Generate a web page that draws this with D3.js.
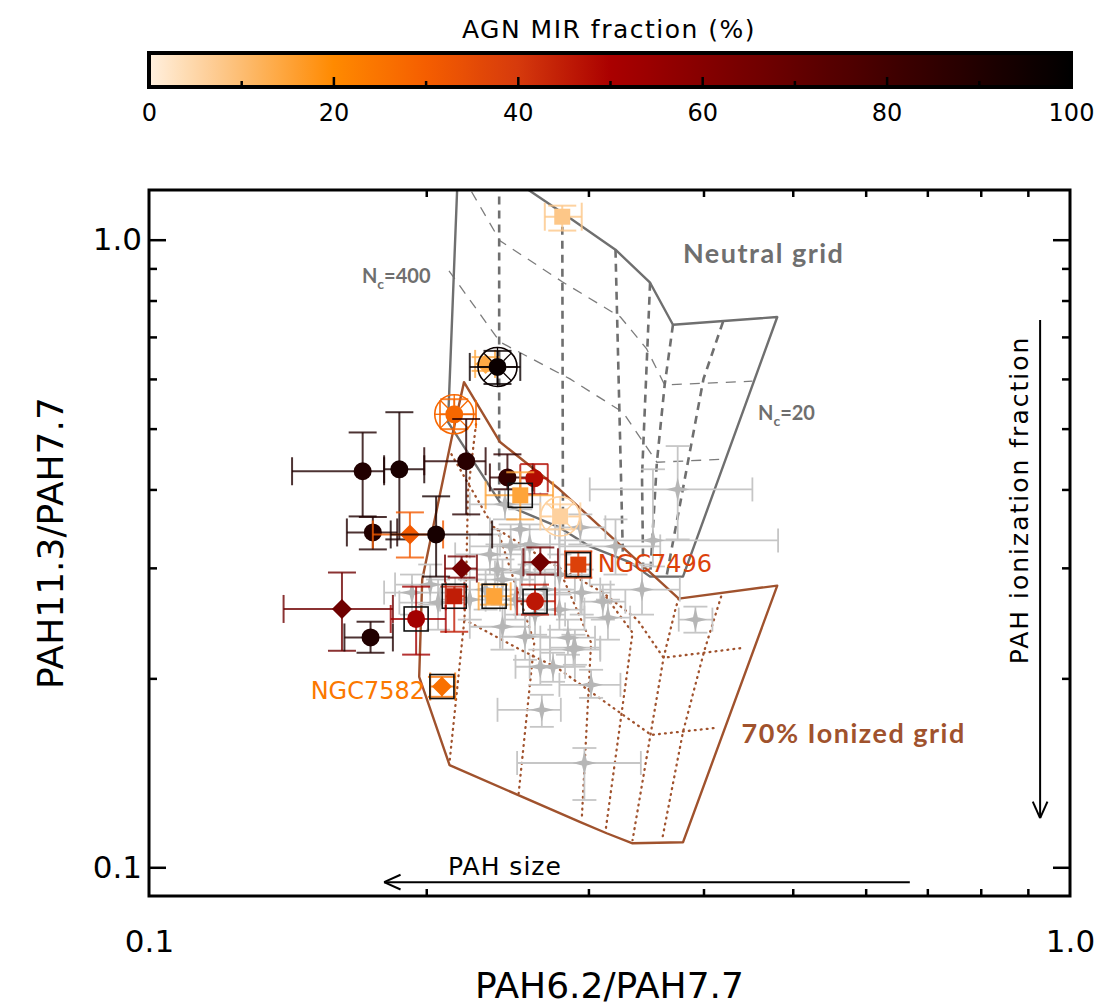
<!DOCTYPE html>
<html>
<head>
<meta charset="utf-8">
<script src="https://cdn.jsdelivr.net/npm/d3@7"></script>
<style>
  body { margin: 0; background: #fff; }
  svg { display: block; }
</style>
</head>
<body>
<svg id="chart" width="1099" height="1006"></svg>
<script>
// ---------------- colour bar: AGN MIR fraction (%) ----------------
const fracStops  = [0, 10, 20, 30, 40, 50, 60, 70, 80, 90, 100];
const fracColors = ["#fff0df", "#fdbd72", "#ff8a00", "#f55e00", "#d63a0c", "#aa0000",
                    "#860000", "#640000", "#420000", "#210000", "#000000"];
const cbLabels = [0, 20, 40, 60, 80, 100];
const cbMajor  = [20, 40, 60, 80];
const cbMinor  = [10, 30, 50, 70, 90];

// ---------------- axis ticks ----------------
const xMajor = [0.1, 1.0];
const xMinor = [0.2, 0.3, 0.4, 0.5, 0.6, 0.7, 0.8, 0.9];
const yMajor = [0.1, 1.0];
const yMinor = [0.2, 0.3, 0.4, 0.5, 0.6, 0.7, 0.8, 0.9];

// ---------------- neutral PAH grid (PAH6.2/7.7, PAH11.3/7.7) ----------------
const neutralOutline = [[0.2165,1.298],[0.2112,0.512],[0.2405,0.3814],[0.279,0.348],[0.301,0.3245],
  [0.333,0.306],[0.350,0.2905],[0.380,0.2905],[0.481,0.753],[0.3706,0.732],[0.350,0.854],
  [0.321,0.964],[0.281,1.104],[0.257,1.206],[0.239,1.298]];
const neutralCol1 = [[0.240,1.298],[0.240,0.3856]];
const neutralCol2 = [[0.281,1.104],[0.2815,0.3454]];
const neutralCol3 = [[0.321,0.964],[0.327,0.314]];
const neutralCol4 = [[0.350,0.854],[0.343,0.4198],[0.344,0.297]];
const neutralCol5 = [[0.3706,0.732],[0.363,0.587],[0.356,0.442],[0.350,0.2905]];
const neutralCol6 = [[0.420,0.740],[0.400,0.600],[0.365,0.2927]];
const neutralRowA = [[0.2185,1.26],[0.223,1.206],[0.2405,0.996],[0.281,0.857],[0.325,0.753],
  [0.347,0.670],[0.363,0.587],[0.452,0.595]];
const neutralRowB = [[0.2117,0.892],[0.2405,0.687],[0.2865,0.600],[0.327,0.531],[0.356,0.442],[0.422,0.447]];

// ---------------- 70% ionized PAH grid ----------------
const ionOutline = [[0.2198,0.593],[0.2405,0.476],[0.279,0.4002],[0.376,0.268],[0.481,0.2811],
  [0.380,0.1096],[0.335,0.1092],[0.314,0.1133],[0.294,0.118],[0.212,0.1455],[0.1965,0.2011],
  [0.198,0.2874],[0.213,0.481]];
const ionColA = [[0.2265,0.5083],[0.222,0.397],[0.221,0.2874],[0.220,0.2481],[0.212,0.1472]];
const ionColB = [[0.239,0.3454],[0.253,0.267],[0.262,0.228],[0.252,0.1313]];
const ionColC = [[0.279,0.2981],[0.302,0.228],[0.295,0.1189]];
const ionColD = [[0.311,0.274],[0.335,0.2365],[0.313,0.1138]];
const ionColE = [[0.376,0.268],[0.3735,0.2602],[0.362,0.2157],[0.335,0.1105]];
const ionColF = [[0.418,0.270],[0.4005,0.2205],[0.380,0.1643],[0.3606,0.1105]];
const ionRow1 = [[0.213,0.455],[0.2363,0.3492],[0.2725,0.306],[0.311,0.274],[0.339,0.2481],
  [0.362,0.2157],[0.443,0.2238]];
const ionRow2 = [[0.220,0.2481],[0.253,0.2222],[0.2773,0.208],[0.351,0.1625],[0.413,0.1668]];

// ---------------- comparison sample (grey stars) ----------------
const grayX   = [0.375,0.3525,0.321,0.343,0.295,0.311,0.315,0.285,0.256,0.242,0.266,0.2746,0.290,0.302,
  0.247,0.254,0.242,0.239,0.193,0.206,0.289,0.267,0.297,0.392,0.253,0.259,0.232,0.223,0.269,0.279,
  0.2345,0.250,0.2625,0.279,0.202,0.294,0.2435];
const grayY   = [0.400,0.3317,0.3245,0.277,0.274,0.265,0.2499,0.2322,0.233,0.2417,0.2087,0.2087,0.2238,0.1953,
  0.3245,0.2949,0.2874,0.2981,0.274,0.2641,0.2222,0.1782,0.1466,0.2481,0.3454,0.3269,0.277,0.267,0.277,0.2927,
  0.3151,0.267,0.2527,0.2574,0.2821,0.348,0.3787];
const grayXlo = [0.301,0.279,0.279,0.309,0.276,0.294,0.297,0.266,0.2405,0.223,0.250,0.259,0.2725,0.279,
  0.223,0.2375,0.223,0.218,0.180,0.187,0.2725,0.239,0.251,0.376,0.2345,0.2405,0.215,0.207,0.250,0.259,
  0.215,0.232,0.2435,0.2625,0.185,0.276,0.223];
const grayXhi = [0.452,0.482,0.359,0.377,0.317,0.329,0.333,0.305,0.2725,0.259,0.283,0.290,0.309,0.325,
  0.2725,0.276,0.2625,0.259,0.210,0.223,0.309,0.280,0.342,0.409,0.279,0.283,0.253,0.2405,0.290,0.301,
  0.256,0.269,0.283,0.297,0.220,0.313,0.266];
const grayYlo = [0.333,0.3015,0.2927,0.2527,0.2527,0.2481,0.2305,0.2181,0.2141,0.2222,0.1953,0.1975,0.2102,0.1862,
  0.2981,0.272,0.267,0.277,0.2527,0.2391,0.2087,0.1674,0.128,0.2365,0.3209,0.3037,0.2574,0.2481,0.2574,0.272,
  0.2927,0.2481,0.2347,0.2391,0.2621,0.3269,0.3584];
const grayYhi = [0.469,0.4307,0.3584,0.3037,0.2981,0.2821,0.267,0.2481,0.2527,0.2621,0.2222,0.2197,0.2391,0.2064,
  0.3518,0.3209,0.3094,0.3269,0.2927,0.2874,0.2347,0.1883,0.1549,0.2602,0.3718,0.3518,0.2981,0.2874,0.2981,0.3151,
  0.3391,0.2874,0.272,0.277,0.3037,0.365,0.4002];

// ---------------- AGN sample, coloured by AGN MIR fraction ----------------
const agnX    = [0.281,0.232,0.239,0.2145,0.1706,0.187,0.221,0.245,0.262,0.253,0.2795,0.175,0.192,0.205,
  0.2185,0.266,0.2925,0.2145,0.237,0.2625,0.162,0.195,0.174,0.208];
const agnY    = [1.088,0.634,0.627,0.527,0.4276,0.4307,0.4436,0.418,0.4167,0.3914,0.3623,0.3416,0.3391,0.3391,
  0.2992,0.3062,0.3036,0.2703,0.2703,0.2653,0.258,0.2487,0.2324,0.1941];
const agnXlo  = [0.269,0.226,0.223,0.207,0.143,0.180,0.199,0.2345,0.253,0.232,0.266,0.164,0.175,0.183,
  0.2096,0.255,0.283,0.210,0.228,0.251,0.140,0.183,0.163,0.202];
const agnXhi  = [0.295,0.2375,0.253,0.2265,0.180,0.199,0.232,0.261,0.271,0.2746,0.294,0.186,0.2086,0.2358,
  0.227,0.278,0.302,0.220,0.247,0.276,0.184,0.210,0.184,0.215];
const agnYlo  = [1.034,0.618,0.589,0.499,0.3623,0.333,0.365,0.4002,0.393,0.3583,0.3454,0.321,0.3116,0.2905,
  0.2894,0.2927,0.2894,0.2373,0.2621,0.2527,0.2213,0.2182,0.2197,0.1869];
const agnYhi  = [1.133,0.650,0.665,0.557,0.493,0.531,0.518,0.455,0.439,0.426,0.3787,0.3615,0.3677,0.390,
  0.3128,0.3233,0.3186,0.280,0.2821,0.2821,0.2949,0.280,0.2462,0.2011];
const agnFrac = [8,14,97,28,90,92,88,85,48,15,6,90,31,93,65,66,38,45,15,46,67,52,90,26];
const agnShape = ["square","diamond","circle","circle","circle","circle","circle","circle","circle","square",
  "square","circle","diamond","circle","diamond","diamond","square","square","square","circle","diamond",
  "circle","circle","diamond"];
const agnBoxed = [0,0,0,0,0,0,0,0,0,1,0,0,0,0,0,0,1,1,1,1,0,1,0,1];
const agnRing  = [0,0,1,1,0,0,0,0,0,0,1,0,0,0,0,0,0,0,0,0,0,0,0,0];

// ---------------- annotations (data coordinates) ----------------
const namedGalaxies = [
  {name: "NGC7496", x: 0.307, y: 0.2955, anchor: "start", frac: 38},
  {name: "NGC7582", x: 0.1994, y: 0.1854, anchor: "end", frac: 24}
];

const svg = d3.select("#chart");
const AX_FONT = "DejaVu Sans";
const LBL_FONT = "Lato";

const x = d3.scaleLog().domain([0.1, 1.0]).range([149, 1070]);
const y = d3.scaleLog().domain([0.09, 1.2]).range([896, 190]);
const color = d3.scaleLinear().domain(fracStops).range(fracColors).interpolate(d3.interpolateRgb);

const defs = svg.append("defs");
defs.append("clipPath").attr("id", "plotClip")
  .append("rect").attr("x", 149).attr("y", 190).attr("width", 921).attr("height", 706);

// ---------- colour bar ----------
const cbx = d3.scaleLinear().domain([0, 100]).range([149, 1071]);
const grad = defs.append("linearGradient").attr("id", "fracGrad")
  .attr("x1", "0%").attr("x2", "100%").attr("y1", "0%").attr("y2", "0%");
d3.range(0, 101, 2).forEach(f => {
  grad.append("stop").attr("offset", f + "%").attr("stop-color", color(f));
});
svg.append("rect").attr("x", cbx(0)).attr("y", 53).attr("width", cbx(100) - cbx(0)).attr("height", 34)
  .attr("fill", "url(#fracGrad)");
const cbMaj = svg.append("g").attr("transform", "translate(0,87)")
  .call(d3.axisTop(cbx).tickValues(cbMajor).tickSize(10).tickFormat(""));
const cbMin = svg.append("g").attr("transform", "translate(0,87)")
  .call(d3.axisTop(cbx).tickValues(cbMinor).tickSize(6).tickFormat(""));
[cbMaj, cbMin].forEach(g => {
  g.select(".domain").remove();
  g.selectAll("line").attr("stroke", "#000").attr("stroke-width", 2.5);
});
svg.append("rect").attr("x", cbx(0)).attr("y", 53).attr("width", cbx(100) - cbx(0)).attr("height", 34)
  .attr("fill", "none").attr("stroke", "#000").attr("stroke-width", 4);
const cbLab = svg.append("g").attr("transform", "translate(0,88)")
  .call(d3.axisBottom(cbx).tickValues(cbLabels).tickSize(0).tickPadding(16).tickFormat(d3.format("d")));
cbLab.select(".domain").remove();
cbLab.selectAll("text").attr("font-family", AX_FONT).attr("font-size", 24).attr("fill", "#000");
svg.append("text").attr("x", 609).attr("y", 38).attr("text-anchor", "middle")
  .attr("font-family", AX_FONT).attr("font-size", 25).attr("letter-spacing", 1.5)
  .text("AGN MIR fraction (%)");

// ---------- model grids ----------
const plot = svg.append("g").attr("clip-path", "url(#plotClip)");
const line = d3.line().x(d => x(d[0])).y(d => y(d[1]));
const closed = d3.line().x(d => x(d[0])).y(d => y(d[1])).curve(d3.curveLinearClosed);

const NEUTRAL = "#6f6f6f";
const IONIZED = "#a0522d";

[neutralRowA, neutralRowB].forEach(r => plot.append("path").attr("d", line(r))
  .attr("fill", "none").attr("stroke", "#7c7c7c").attr("stroke-width", 1.3).attr("stroke-dasharray", "10,8"));
[neutralCol1, neutralCol2, neutralCol3, neutralCol4, neutralCol5, neutralCol6].forEach(c =>
  plot.append("path").attr("d", line(c)).attr("fill", "none").attr("stroke", NEUTRAL)
    .attr("stroke-width", 2.6).attr("stroke-dasharray", "8,6"));
plot.append("path").attr("d", closed(neutralOutline)).attr("fill", "none")
  .attr("stroke", NEUTRAL).attr("stroke-width", 2.4).attr("stroke-linejoin", "round");

[ionColA, ionColB, ionColC, ionColD, ionColE, ionColF, ionRow1, ionRow2].forEach(c =>
  plot.append("path").attr("d", line(c)).attr("fill", "none").attr("stroke", IONIZED)
    .attr("stroke-width", 2.3).attr("stroke-linecap", "round").attr("stroke-dasharray", "0.8,5.2"));
plot.append("path").attr("d", closed(ionOutline)).attr("fill", "none")
  .attr("stroke", IONIZED).attr("stroke-width", 2.4).attr("stroke-linejoin", "round");

// ---------- symbols ----------
const star4 = { draw(ctx, size) {
  const r = Math.sqrt(size), i = r * 0.2;
  ctx.moveTo(0, -r); ctx.lineTo(i, -i); ctx.lineTo(r, 0); ctx.lineTo(i, i);
  ctx.lineTo(0, r); ctx.lineTo(-i, i); ctx.lineTo(-r, 0); ctx.lineTo(-i, -i); ctx.closePath();
}};
const diamond = { draw(ctx, size) {
  const r = Math.sqrt(size);
  ctx.moveTo(0, -r); ctx.lineTo(r, 0); ctx.lineTo(0, r); ctx.lineTo(-r, 0); ctx.closePath();
}};
const symbolFor = {
  circle:  d3.symbol().type(d3.symbolCircle).size(Math.PI * 9 * 9),
  square:  d3.symbol().type(d3.symbolSquare).size(16 * 16),
  diamond: d3.symbol().type(diamond).size(10 * 10)
};

function errorBars(g, px, py, xl, xh, yl, yh, cap, stroke, width, opacity) {
  const segs = [
    [xl, py, xh, py], [px, yl, px, yh],
    [xl, py - cap, xl, py + cap], [xh, py - cap, xh, py + cap],
    [px - cap, yl, px + cap, yl], [px - cap, yh, px + cap, yh]
  ];
  segs.forEach(s => g.append("line").attr("x1", s[0]).attr("y1", s[1]).attr("x2", s[2]).attr("y2", s[3])
    .attr("stroke", stroke).attr("stroke-width", width).attr("stroke-opacity", opacity));
}

// ---------- grey comparison sample ----------
const grayLayer = plot.append("g");
grayX.forEach((gx, i) => {
  errorBars(grayLayer, x(gx), y(grayY[i]), x(grayXlo[i]), x(grayXhi[i]), y(grayYlo[i]), y(grayYhi[i]),
    12, "#c6c6c6", 1.8, 1);
});
grayX.forEach((gx, i) => {
  grayLayer.append("path").attr("d", d3.symbol().type(star4).size(12 * 12)())
    .attr("transform", `translate(${x(gx)},${y(grayY[i])})`).attr("fill", "#b6b6b6");
});

// ---------- AGN sample ----------
const agnLayer = plot.append("g");
agnX.forEach((ax, i) => {
  const px = x(ax), py = y(agnY[i]), c = color(agnFrac[i]);
  errorBars(agnLayer, px, py, x(agnXlo[i]), x(agnXhi[i]), y(agnYlo[i]), y(agnYhi[i]), 14, c, 2, 0.8);
  if (agnRing[i]) {
    agnLayer.append("circle").attr("cx", px).attr("cy", py).attr("r", 19.5)
      .attr("fill", "none").attr("stroke", c).attr("stroke-width", 1.6);
    d3.range(8).forEach(k => {
      const a = k * Math.PI / 4;
      agnLayer.append("line")
        .attr("x1", px + 9 * Math.cos(a)).attr("y1", py + 9 * Math.sin(a))
        .attr("x2", px + 19.5 * Math.cos(a)).attr("y2", py + 19.5 * Math.sin(a))
        .attr("stroke", c).attr("stroke-width", 1.3);
    });
  }
  agnLayer.append("path").attr("d", symbolFor[agnShape[i]]())
    .attr("transform", `translate(${px},${py})`).attr("fill", c);
  if (agnBoxed[i]) {
    agnLayer.append("rect").attr("x", px - 12).attr("y", py - 12).attr("width", 24).attr("height", 24)
      .attr("fill", "none").attr("stroke", "#111").attr("stroke-width", 1.6);
  }
});

namedGalaxies.forEach(g => {
  svg.append("text").attr("x", x(g.x)).attr("y", y(g.y)).attr("text-anchor", g.anchor)
    .attr("font-family", AX_FONT).attr("font-size", 24).attr("fill", color(g.frac)).text(g.name);
});

// ---------- grid labels ----------
svg.append("text").attr("x", x(0.380)).attr("y", y(0.918))
  .attr("font-family", LBL_FONT).attr("font-weight", "bold").attr("font-size", 27)
  .attr("letter-spacing", 1.5).attr("fill", NEUTRAL).text("Neutral grid");
svg.append("text").attr("x", x(0.440)).attr("y", y(0.1578))
  .attr("font-family", LBL_FONT).attr("font-weight", "bold").attr("font-size", 27)
  .attr("letter-spacing", 1.5).attr("fill", IONIZED).text("70% Ionized grid");

function ncLabel(xv, yv, value) {
  const t = svg.append("text").attr("x", x(xv)).attr("y", y(yv))
    .attr("font-family", LBL_FONT).attr("font-weight", "bold").attr("font-size", 20).attr("fill", NEUTRAL);
  t.append("tspan").text("N");
  t.append("tspan").attr("dy", 6).attr("font-size", 14).text("c");
  t.append("tspan").attr("dy", -6).text("=" + value);
}
ncLabel(0.1703, 0.853, "400");
ncLabel(0.4584, 0.516, "20");

// ---------- arrows ----------
function arrow(x1, y1, x2, y2) {
  const g = svg.append("g").attr("stroke", "#000").attr("stroke-width", 2).attr("fill", "none");
  const X1 = x(x1), Y1 = y(y1), X2 = x(x2), Y2 = y(y2);
  g.append("line").attr("x1", X1).attr("y1", Y1).attr("x2", X2).attr("y2", Y2);
  const ang = Math.atan2(Y2 - Y1, X2 - X1), L = 18, s = 0.42;
  [ang + Math.PI - s, ang + Math.PI + s].forEach(a => {
    g.append("line").attr("x1", X2).attr("y1", Y2)
      .attr("x2", X2 + L * Math.cos(a)).attr("y2", Y2 + L * Math.sin(a));
  });
}
arrow(0.670, 0.0947, 0.180, 0.0947);
svg.append("text").attr("x", x(0.2435)).attr("y", y(0.0972)).attr("text-anchor", "middle")
  .attr("font-family", AX_FONT).attr("font-size", 25).attr("letter-spacing", 1).text("PAH size");
arrow(0.928, 0.745, 0.928, 0.1198);
svg.append("text").attr("transform", `translate(${x(0.900)},${y(0.3848)}) rotate(-90)`)
  .attr("text-anchor", "middle").attr("font-family", AX_FONT).attr("font-size", 25)
  .attr("letter-spacing", 2).text("PAH ionization fraction");

// ---------- axes ----------
function styleAxis(g) {
  g.select(".domain").remove();
  g.selectAll("line").attr("stroke", "#000").attr("stroke-width", 2.5);
  g.selectAll("text").attr("font-family", AX_FONT).attr("font-size", 31).attr("fill", "#000");
}
const fmt = d3.format(".1f");
styleAxis(svg.append("g").attr("transform", "translate(0,896)")
  .call(d3.axisBottom(x).tickValues(xMinor).tickSize(-7).tickFormat("")));
styleAxis(svg.append("g").attr("transform", "translate(0,896)")
  .call(d3.axisBottom(x).tickValues(xMajor).tickSize(0).tickPadding(34).tickFormat(fmt)));
styleAxis(svg.append("g").attr("transform", "translate(0,190)")
  .call(d3.axisTop(x).tickValues(xMinor).tickSize(-7).tickFormat("")));
styleAxis(svg.append("g").attr("transform", "translate(149,0)")
  .call(d3.axisLeft(y).tickValues(yMajor).tickSize(-17).tickPadding(7).tickFormat(fmt)));
styleAxis(svg.append("g").attr("transform", "translate(149,0)")
  .call(d3.axisLeft(y).tickValues(yMinor).tickSize(-8).tickFormat("")));
styleAxis(svg.append("g").attr("transform", "translate(1070,0)")
  .call(d3.axisRight(y).tickValues(yMajor).tickSize(-17).tickFormat("")));
styleAxis(svg.append("g").attr("transform", "translate(1070,0)")
  .call(d3.axisRight(y).tickValues(yMinor).tickSize(-8).tickFormat("")));

svg.append("rect").attr("x", 149).attr("y", 190).attr("width", 921).attr("height", 706)
  .attr("fill", "none").attr("stroke", "#000").attr("stroke-width", 3);

svg.append("text").attr("x", 609.5).attr("y", 998).attr("text-anchor", "middle")
  .attr("font-family", AX_FONT).attr("font-size", 36).text("PAH6.2/PAH7.7");
svg.append("text").attr("transform", "translate(63,543) rotate(-90)").attr("text-anchor", "middle")
  .attr("font-family", AX_FONT).attr("font-size", 36).text("PAH11.3/PAH7.7");
</script>
</body>
</html>
